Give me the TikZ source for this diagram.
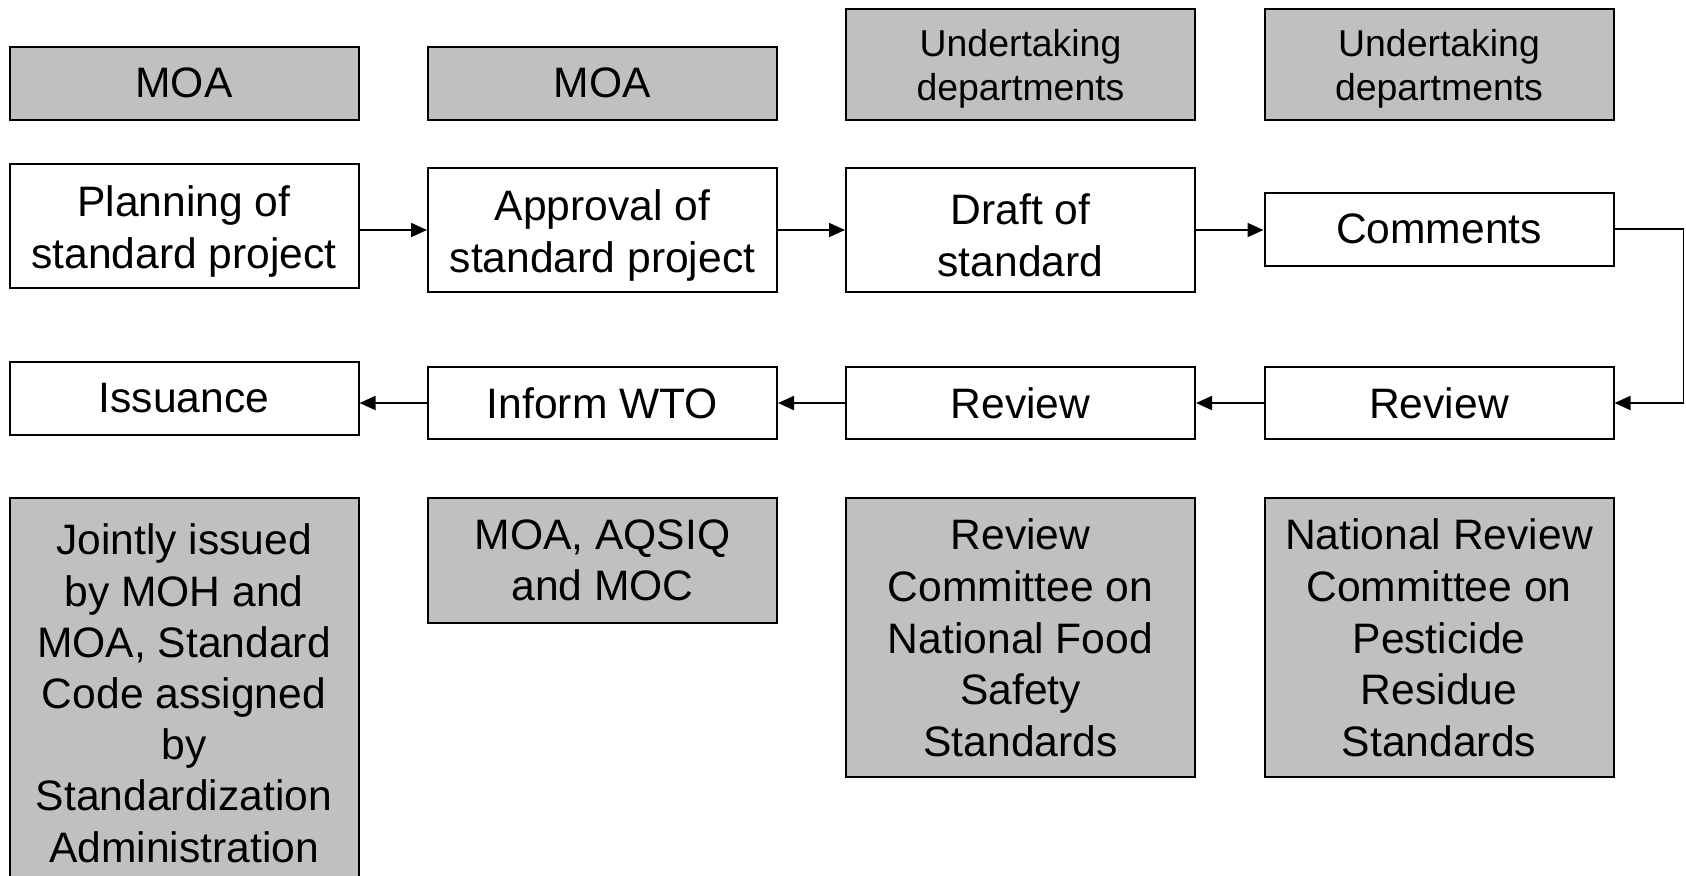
\documentclass[tikz,border=0pt]{standalone}
\usepackage{fontspec}
\setmainfont{Liberation Sans}
\usetikzlibrary{arrows.meta}
\definecolor{boxgray}{HTML}{C0C0C0}
\newcommand{\lowerstrut}{\rule{0pt}{20.9pt}}
\newcommand{\lowersmall}{\rule{0pt}{17.9pt}}
\begin{document}
\begin{tikzpicture}[x=0.5pt,y=-0.5pt,
  box/.style={draw=black, line width=1pt, fill=white, inner sep=0pt,
    minimum width=174.5pt, align=center, font=\fontsize{21.3}{25.8}\selectfont},
  gbox/.style={box, fill=boxgray},
  small/.style={font=\fontsize{18.7}{22.2}\selectfont},
  conn/.style={line width=0.9pt, -{Triangle[length=8pt,width=7pt]}}]
\useasboundingbox (0,0) rectangle (1686,875);
\clip (0,0) rectangle (1686,875);
% top gray row
\node[gbox, minimum height=36.7pt] (moa1) at (184,83.3) {MOA};
\node[gbox, minimum height=36.7pt] (moa2) at (602.5,83.3) {MOA};
\node[gbox, small, minimum height=55.5pt] (und1) at (1020.5,64.5) {\lowersmall Undertaking\\departments};
\node[gbox, small, minimum height=55.5pt] (und2) at (1439,64.5) {\lowersmall Undertaking\\departments};
% process row 1
\node[box, minimum height=62pt] (plan) at (184,226) {\lowerstrut Planning of\\standard project};
\node[box, minimum height=62pt] (appr) at (602.5,230) {\lowerstrut Approval of\\standard project};
\node[box, minimum height=62pt] (draft) at (1020.5,230) {\lowerstrut Draft of\\standard};
\node[box, minimum height=36.7pt] (comm) at (1439,229.3) {Comments};
% process row 2
\node[box, minimum height=36.5pt] (iss) at (184,398.5) {Issuance};
\node[box, minimum height=36.3pt] (wto) at (602.5,403) {Inform WTO};
\node[box, minimum height=36.3pt] (rev1) at (1020.5,403) {Review};
\node[box, minimum height=36.3pt] (rev2) at (1439,403) {Review};
% bottom gray row
\node[gbox, minimum height=195pt, font=\fontsize{21.3}{25.6}\selectfont] (joint) at (184,693.3) {Jointly issued\\by MOH and\\MOA, Standard\\Code assigned\\by\\Standardization\\Administration};
\node[gbox, minimum height=62.2pt] (aqsiq) at (602.5,560.5) {MOA, AQSIQ\\and MOC};
\node[gbox, minimum height=139.5pt] (rcnf) at (1020.5,637.8) {Review\\Committee on\\National Food\\Safety\\Standards};
\node[gbox, minimum height=139.5pt] (nrc) at (1439,637.8) {National Review\\Committee on\\Pesticide\\Residue\\Standards};
% connectors
\draw[conn] (appr.west -| plan.east) -- (appr.west);
\draw[conn] (appr.east) -- (draft.west);
\draw[conn] (draft.east) -- (draft.east -| comm.west);
\draw[conn] (comm.east) -- ++(69,0) |- (rev2.east);
\draw[conn] (rev2.west) -- (rev1.east);
\draw[conn] (rev1.west) -- (wto.east);
\draw[conn] (wto.west) -- (wto.west -| iss.east);
\end{tikzpicture}
\end{document}
